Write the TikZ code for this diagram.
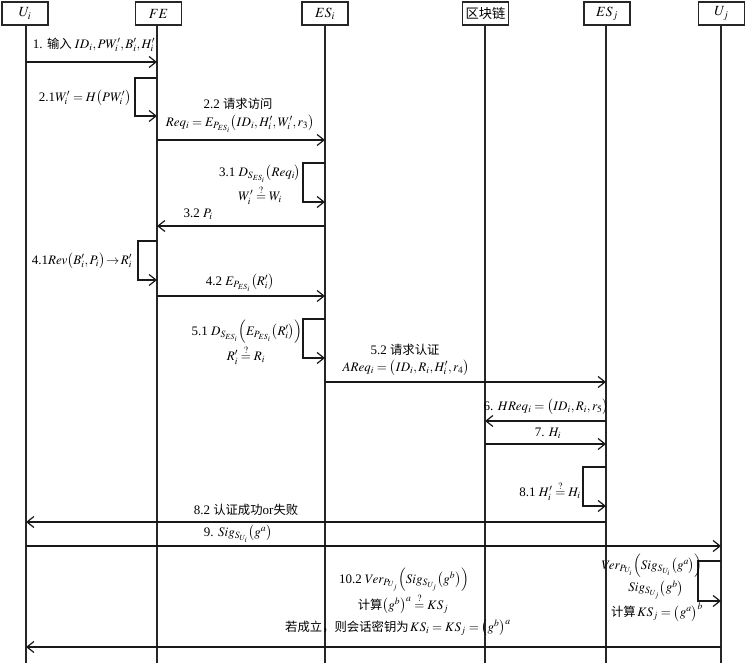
\documentclass[tikz,border=0pt]{standalone}
\usepackage{mathptmx}
\usepackage[no-math]{fontspec}
\setmainfont{Liberation Serif}
\newfontfamily\cjk[Scale=0.95]{Noto Sans CJK SC}
\usetikzlibrary{arrows.meta}
\newcommand{\zh}[1]{{\cjk #1}}
\newcommand{\qeq}{\mathrel{\stackrel{?}{=}}}
\newcommand{\lp}{\bigl(}
\newcommand{\rp}{\bigr)}
\newcommand{\Lp}{\Bigl(}
\newcommand{\Rp}{\Bigr)}
\begin{document}
\begin{tikzpicture}[x=1pt,y=-1pt,font=\fontsize{13}{15}\selectfont,
  hdr/.style={draw=black!85,line width=1.5pt,minimum width=46pt,minimum height=23pt,inner sep=0pt,font=\fontsize{14}{16}\selectfont,fill=white},
  life/.style={draw=black!85,line width=1.3pt},
  msg/.style={draw=black!90,line width=1.2pt,-{Straight Barb[length=7pt,width=11pt,line width=1.2pt]}},
  lbl/.style={inner sep=0pt,align=center}]
\useasboundingbox (0,0) rectangle (746,663);
\def\xUi{26}\def\xFE{157}\def\xESi{325}\def\xBC{485}\def\xESj{606}\def\xUj{721}
% headers
\node[hdr] (Ui) at (25,13.5) {$U_i$};
\node[hdr] (FE) at (158.5,13.5) {$FE$};
\node[hdr] (ESi) at (325,13.5) {$ES_i$};
\node[hdr] (BC) at (485.5,13.5) {\zh{区块链}};
\node[hdr] (ESj) at (607,13.5) {$ES_j$};
\node[hdr] (Uj) at (721.5,13.5) {$U_j$};
% lifeline ends
\coordinate (eUi) at (\xUi,663);
\coordinate (eFE) at (\xFE,663);
\coordinate (eESi) at (\xESi,663);
\coordinate (eBC) at (\xBC,663);
\coordinate (eESj) at (\xESj,663);
\coordinate (eUj) at (\xUj,663);
\draw[life] (Ui.south -| eUi) -- (eUi);
\draw[life] (FE.south -| eFE) -- (eFE);
\draw[life] (ESi.south -| eESi) -- (eESi);
\draw[life] (BC.south -| eBC) -- (eBC);
\draw[life] (ESj.south -| eESj) -- (eESj);
\draw[life] (Uj.south -| eUj) -- (eUj);
% 1
\coordinate (m1a) at (\xUi,62); \coordinate (m1b) at (\xFE,62);
\draw[msg] (m1a) -- (m1b);
\node[lbl] (t1) at (94,45) {1. \zh{输入} $ID_i,PW'_i,B'_i,H'_i$};
% 2.1
\coordinate (s21a) at (\xFE,78); \coordinate (s21b) at (\xFE,116);
\draw[msg] (s21a) -- ++(-22,0) |- (s21b);
\node[lbl] (t21) at (85,98) {2.1$W'_i = H\lp PW'_i\rp$};
% 2.2
\coordinate (m22a) at (\xFE,140); \coordinate (m22b) at (\xESi,140);
\draw[msg] (m22a) -- (m22b);
\node[lbl] (t22a) at (238,104) {2.2 \zh{请求访问}};
\node[lbl] (t22b) at (240,124) {$Req_i = E_{P_{ES_i}}\lp ID_i,H'_i,W'_i,r_3\rp$};
% 3.1
\coordinate (s31a) at (\xESi,163); \coordinate (s31b) at (\xESi,202);
\draw[msg] (s31a) -- ++(-22,0) |- (s31b);
\node[lbl] (t31a) at (260,174) {3.1 $D_{S_{ES_i}}\lp Req_i\rp$};
\node[lbl] (t31b) at (260,195) {$W'_i \qeq W_i$};
% 3.2
\coordinate (m32a) at (\xESi,226); \coordinate (m32b) at (\xFE,226);
\draw[msg] (m32a) -- (m32b);
\node[lbl] (t32) at (198,214) {3.2 $P_i$};
% 4.1
\coordinate (s41a) at (\xFE,241); \coordinate (s41b) at (\xFE,280);
\draw[msg] (s41a) -- ++(-19,0) |- (s41b);
\node[lbl] (t41) at (82,261) {4.1$Rev\lp B'_i,P_i\rp\!\rightarrow\! R'_i$};
% 4.2
\coordinate (m42a) at (\xFE,296); \coordinate (m42b) at (\xESi,296);
\draw[msg] (m42a) -- (m42b);
\node[lbl] (t42) at (240,283) {4.2 $E_{P_{ES_i}}\lp R'_i\rp$};
% 5.1
\coordinate (s51a) at (\xESi,319); \coordinate (s51b) at (\xESi,358);
\draw[msg] (s51a) -- ++(-22,0) |- (s51b);
\node[lbl] (t51a) at (247,332) {5.1 $D_{S_{ES_i}}\Lp E_{P_{ES_i}}\lp R'_i\rp\Rp$};
\node[lbl] (t51b) at (246,355) {$R'_i \qeq R_i$};
% 5.2
\coordinate (m52a) at (\xESi,382); \coordinate (m52b) at (\xESj,382);
\draw[msg] (m52a) -- (m52b);
\node[lbl] (t52a) at (405,350) {5.2 \zh{请求认证}};
\node[lbl] (t52b) at (406,368) {$AReq_i = \lp ID_i,R_i,H'_i,r_4\rp$};
% 6
\coordinate (m6a) at (\xESj,421); \coordinate (m6b) at (\xBC,421);
\draw[msg] (m6a) -- (m6b);
\node[lbl] (t6) at (546,407) {6. $HReq_i =\lp ID_i,R_i,r_5\rp$};
% 7
\coordinate (m7a) at (\xBC,444); \coordinate (m7b) at (\xESj,444);
\draw[msg] (m7a) -- (m7b);
\node[lbl] (t7) at (548,433) {7. $H_i$};
% 8.1
\coordinate (s81a) at (\xESj,467); \coordinate (s81b) at (\xESj,506);
\draw[msg] (s81a) -- ++(-23,0) |- (s81b);
\node[lbl] (t81) at (550,491) {8.1 $H'_i \qeq H_i$};
% 8.2
\coordinate (m82a) at (\xESj,522); \coordinate (m82b) at (\xUi,522);
\draw[msg] (m82a) -- (m82b);
\node[lbl] (t82) at (246,510) {8.2 \zh{认证成功}or\zh{失败}};
% 9
\coordinate (m9a) at (\xUi,546); \coordinate (m9b) at (\xUj,546);
\draw[msg] (m9a) -- (m9b);
\node[lbl] (t9) at (238,534) {9. $Sig_{S_{U_i}}\lp g^a\rp$};
% 10.1
\coordinate (s101a) at (\xUj,561); \coordinate (s101b) at (\xUj,601);
\draw[msg] (s101a) -- ++(-23,0) |- (s101b);
\node[lbl] (t101a) at (652,566) {$Ver_{P_{U_i}}\Lp Sig_{S_{U_i}}\lp g^a\rp\Rp$};
\node[lbl] (t101b) at (656,590) {$Sig_{S_{U_j}}\lp g^b\rp$};
\node[lbl] (t101c) at (657,612) {\zh{计算}$\,KS_j = \lp g^a\rp^b$};
% 10.2
\coordinate (m102a) at (\xUj,647); \coordinate (m102b) at (\xUi,647);
\draw[msg] (m102a) -- (m102b);
\node[lbl] (t102a) at (404,580) {10.2 $Ver_{P_{U_j}}\Lp Sig_{S_{U_j}}\lp g^b\rp\Rp$};
\node[lbl] (t102b) at (403,604) {\zh{计算}$\lp g^b\rp^a \qeq KS_j$};
\node[lbl] (t102c) at (398,628) {\zh{若成立，则会话密钥为}$\,KS_i = KS_j = \lp g^b\rp^a$};
\end{tikzpicture}
\end{document}
